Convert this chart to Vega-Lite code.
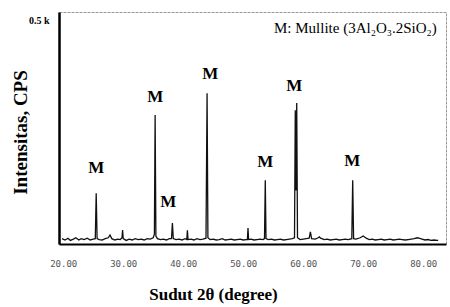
{
  "$schema": "https://vega.github.io/schema/vega-lite/v6.json",
  "width": 387,
  "height": 232,
  "autosize": {"type": "none"},
  "padding": {"left": 59, "top": 12, "right": 4, "bottom": 63},
  "background": "white",
  "config": {
    "font": "Liberation Serif",
    "view": {"stroke": "#999", "strokeWidth": 1, "strokeDash": [3, 1]}
  },
  "datasets": {
    "spectrum": [
      {"deg":19.8,"cps":12},{"deg":20.3,"cps":9},{"deg":20.8,"cps":13},{"deg":21.2,"cps":8},{"deg":21.7,"cps":11},{"deg":22.1,"cps":14},{"deg":22.6,"cps":9},{"deg":23.0,"cps":12},{"deg":23.5,"cps":10},{"deg":24.0,"cps":13},{"deg":24.5,"cps":9},{"deg":25.0,"cps":11},{"deg":25.35,"cps":12},{"deg":25.5,"cps":114},{"deg":25.65,"cps":12},{"deg":26.0,"cps":10},{"deg":26.5,"cps":9},{"deg":27.0,"cps":12},{"deg":27.5,"cps":14},{"deg":27.8,"cps":20},{"deg":28.1,"cps":12},{"deg":28.6,"cps":9},{"deg":29.1,"cps":11},{"deg":29.5,"cps":10},{"deg":29.8,"cps":14},{"deg":29.9,"cps":31},{"deg":30.0,"cps":12},{"deg":30.5,"cps":8},{"deg":31.0,"cps":11},{"deg":31.5,"cps":9},{"deg":32.0,"cps":12},{"deg":32.5,"cps":10},{"deg":33.0,"cps":11},{"deg":33.5,"cps":9},{"deg":34.0,"cps":12},{"deg":34.5,"cps":11},{"deg":35.0,"cps":14},{"deg":35.2,"cps":22},{"deg":35.32,"cps":289},{"deg":35.45,"cps":18},{"deg":35.7,"cps":12},{"deg":36.2,"cps":10},{"deg":36.7,"cps":11},{"deg":37.2,"cps":9},{"deg":37.7,"cps":12},{"deg":38.05,"cps":12},{"deg":38.2,"cps":47},{"deg":38.35,"cps":12},{"deg":38.8,"cps":10},{"deg":39.3,"cps":11},{"deg":39.8,"cps":9},{"deg":40.3,"cps":12},{"deg":40.6,"cps":10},{"deg":40.7,"cps":31},{"deg":40.8,"cps":10},{"deg":41.3,"cps":11},{"deg":41.8,"cps":9},{"deg":42.3,"cps":12},{"deg":42.8,"cps":10},{"deg":43.3,"cps":11},{"deg":43.8,"cps":13},{"deg":43.98,"cps":338},{"deg":44.12,"cps":14},{"deg":44.5,"cps":10},{"deg":45.0,"cps":11},{"deg":45.5,"cps":9},{"deg":46.0,"cps":10},{"deg":46.5,"cps":12},{"deg":47.0,"cps":9},{"deg":47.5,"cps":10},{"deg":48.0,"cps":11},{"deg":48.5,"cps":9},{"deg":49.0,"cps":10},{"deg":49.5,"cps":11},{"deg":50.0,"cps":9},{"deg":50.5,"cps":10},{"deg":50.7,"cps":10},{"deg":50.8,"cps":36},{"deg":50.9,"cps":10},{"deg":51.3,"cps":11},{"deg":51.8,"cps":9},{"deg":52.3,"cps":10},{"deg":52.8,"cps":11},{"deg":53.3,"cps":10},{"deg":53.55,"cps":12},{"deg":53.68,"cps":143},{"deg":53.8,"cps":12},{"deg":54.2,"cps":10},{"deg":54.7,"cps":11},{"deg":55.2,"cps":9},{"deg":55.7,"cps":10},{"deg":56.2,"cps":11},{"deg":56.7,"cps":9},{"deg":57.2,"cps":10},{"deg":57.7,"cps":11},{"deg":58.2,"cps":12},{"deg":58.55,"cps":14},{"deg":58.68,"cps":300},{"deg":58.8,"cps":120},{"deg":58.92,"cps":316},{"deg":59.05,"cps":14},{"deg":59.5,"cps":10},{"deg":60.0,"cps":11},{"deg":60.5,"cps":12},{"deg":61.0,"cps":13},{"deg":61.2,"cps":27},{"deg":61.4,"cps":12},{"deg":62.0,"cps":11},{"deg":62.5,"cps":14},{"deg":62.7,"cps":16},{"deg":62.9,"cps":13},{"deg":63.5,"cps":10},{"deg":64.0,"cps":11},{"deg":64.5,"cps":9},{"deg":65.0,"cps":10},{"deg":65.5,"cps":11},{"deg":66.0,"cps":9},{"deg":66.5,"cps":10},{"deg":67.0,"cps":11},{"deg":67.5,"cps":10},{"deg":68.1,"cps":12},{"deg":68.25,"cps":143},{"deg":68.4,"cps":12},{"deg":68.8,"cps":11},{"deg":69.5,"cps":14},{"deg":70.0,"cps":18},{"deg":70.5,"cps":13},{"deg":71.0,"cps":10},{"deg":71.5,"cps":11},{"deg":72.0,"cps":9},{"deg":72.5,"cps":10},{"deg":73.0,"cps":11},{"deg":73.5,"cps":9},{"deg":74.0,"cps":10},{"deg":74.5,"cps":11},{"deg":75.0,"cps":9},{"deg":75.5,"cps":10},{"deg":76.0,"cps":11},{"deg":76.5,"cps":10},{"deg":77.0,"cps":9},{"deg":77.5,"cps":10},{"deg":78.0,"cps":11},{"deg":78.5,"cps":12},{"deg":79.0,"cps":14},{"deg":79.3,"cps":13},{"deg":79.8,"cps":11},{"deg":80.3,"cps":9},{"deg":80.8,"cps":10},{"deg":81.3,"cps":8},{"deg":81.8,"cps":9},{"deg":82.3,"cps":8},{"deg":82.5,"cps":8}
    ],
    "labels": [
      {"deg":25.5,"cps":170,"t":"M"},
      {"deg":35.33,"cps":329,"t":"M"},
      {"deg":37.5,"cps":94,"t":"M"},
      {"deg":44.5,"cps":381,"t":"M"},
      {"deg":53.67,"cps":184,"t":"M"},
      {"deg":58.5,"cps":354,"t":"M"},
      {"deg":68.17,"cps":186,"t":"M"}
    ],
    "legend": [
      {"deg":68.7,"cps":484,"t":"M: Mullite (3Al₂O₃.2SiO₂)"}
    ]
  },
  "layer": [
    {
      "data": {"name": "spectrum"},
      "mark": {"type": "line", "color": "#111", "strokeWidth": 1.3, "interpolate": "linear"},
      "encoding": {
        "x": {
          "field": "deg", "type": "quantitative",
          "scale": {"domain": [19.3, 83.8], "nice": false, "zero": false},
          "axis": {
            "values": [20, 30, 40, 50, 60, 70, 80],
            "format": ".2f",
            "grid": false,
            "tickSize": 0,
            "labelPadding": 15,
            "labelFont": "DejaVu Sans Mono",
            "labelFontSize": 9,
            "labelColor": "#555",
            "domainColor": "#000",
            "domainWidth": 2,
            "title": "Sudut 2θ (degree)",
            "titleFont": "Liberation Serif",
            "titleFontSize": 17,
            "titleFontWeight": "bold",
            "titleColor": "#000",
            "titleX": 154,
            "titleY": 55,
            "titleAlign": "center",
            "titleBaseline": "alphabetic"
          }
        },
        "y": {
          "field": "cps", "type": "quantitative",
          "scale": {"domain": [0, 520], "nice": false},
          "axis": {
            "values": [500],
            "labelExpr": "'0.5 k'",
            "grid": false,
            "tickSize": 0,
            "labelPadding": 10,
            "labelFont": "Liberation Serif",
            "labelFontSize": 10,
            "labelFontWeight": "bold",
            "labelColor": "#000",
            "domainColor": "#000",
            "domainWidth": 2.5,
            "title": "Intensitas, CPS",
            "titleFont": "Liberation Serif",
            "titleFontSize": 19,
            "titleFontWeight": "bold",
            "titleColor": "#000",
            "titleAngle": 270,
            "titleX": -39,
            "titleY": 120,
            "titleAlign": "center",
            "titleBaseline": "middle"
          }
        }
      }
    },
    {
      "data": {"name": "labels"},
      "mark": {"type": "text", "font": "Liberation Serif", "fontSize": 17, "fontWeight": "bold", "color": "#000", "baseline": "middle", "align": "center"},
      "encoding": {
        "x": {"field": "deg", "type": "quantitative"},
        "y": {"field": "cps", "type": "quantitative"},
        "text": {"field": "t"}
      }
    },
    {
      "data": {"name": "legend"},
      "mark": {"type": "text", "font": "Liberation Serif", "fontSize": 15, "color": "#000", "baseline": "middle", "align": "center"},
      "encoding": {
        "x": {"field": "deg", "type": "quantitative"},
        "y": {"field": "cps", "type": "quantitative"},
        "text": {"field": "t"}
      }
    }
  ]
}
